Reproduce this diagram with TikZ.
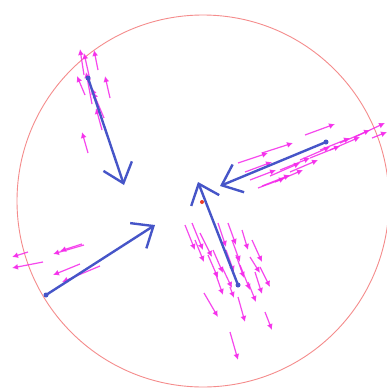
\documentclass[tikz,border=0pt]{standalone}
\usetikzlibrary{arrows.meta}
\definecolor{ringred}{RGB}{245,140,140}
\definecolor{vecblue}{RGB}{70,85,200}
\definecolor{vecmag}{RGB}{245,40,235}
\definecolor{dotred}{RGB}{235,60,40}
\tikzset{
  bigvec/.style={draw=vecblue, line width=2.4pt, line cap=round,
    -{Straight Barb[length=18pt,width=30pt,line width=2.4pt]}},
  bigtail/.style={circle, fill=vecblue, inner sep=0pt, minimum size=5pt},
  smallvec/.style={draw=vecmag, opacity=0.85, line width=1.2pt,
    -{Latex[length=6pt,width=6pt]}},
  ring/.style={draw=ringred, line width=0.9pt}
}
\begin{document}
\begin{tikzpicture}[x=1pt,y=1pt]
\useasboundingbox (0,-391) rectangle (387,0);
\fill[white] (0,-391) rectangle (387,0);
\draw[ring] (203,-201) circle[radius=186pt];
% magenta small vectors: tail -> head (image coordinates, y downward)
\foreach \a/\b/\c/\d in {
  84/75/80/49, 90/80/84/53, 92/104/86/72, 110/98/105/76, 85/95/77/76,
  104/118/93/92, 99/110/92/88, 88/153/82/132, 98/70/94/50, 102/130/96/108,
  305/135/335/124, 262/153/293/143, 238/163/268/153,
  250/180/276/170, 262/186/290/175, 280/170/310/158, 300/160/330/147,
  320/150/350/138, 340/143/370/130, 355/137/385/123, 270/176/300/163,
  258/188/285/178, 372/138/387/132, 290/172/318/160, 310/158/340/146,
  330/150/360/137, 245/172/272/162, 275/182/303/170,
  28/252/12/257, 43/262/12/268, 84/245/53/254, 82/244/60/251,
  80/264/53/275, 100/266/62/282,
  185/225/195/250, 192/223/203/250, 200/233/212/257, 218/223/226/247,
  228/223/236/245, 242/230/248/250, 213/250/223/273, 232/240/240/262,
  250/257/260/273, 222/267/232/288, 260/267/270/287, 230/287/234/298,
  204/293/218/317, 238/297/245/322, 265/312/272/330, 230/332/238/360,
  208/255/218/278, 240/265/250/290, 248/282/256/302, 215/272/223/295,
  195/240/204/262, 252/240/262/262, 236/255/244/278, 226/250/234/272,
  255/272/262/294}
  \draw[smallvec] (\a,-\b) -- (\c,-\d);
% blue vectors
\coordinate (t1) at (88,-78);  \coordinate (h1) at (124,-185);
\coordinate (t2) at (326,-142); \coordinate (h2) at (220,-186);
\coordinate (t3) at (46,-295);  \coordinate (h3) at (155,-225);
\coordinate (t4) at (238,-285); \coordinate (h4) at (198,-182);
\foreach \i in {1,2,3,4}{
  \node[bigtail] (d\i) at (t\i) {};
  \draw[bigvec] (t\i) -- (h\i);
}
\node[circle, fill=dotred, inner sep=0pt, minimum size=4pt] (c) at (202,-202) {};
\end{tikzpicture}
\end{document}
